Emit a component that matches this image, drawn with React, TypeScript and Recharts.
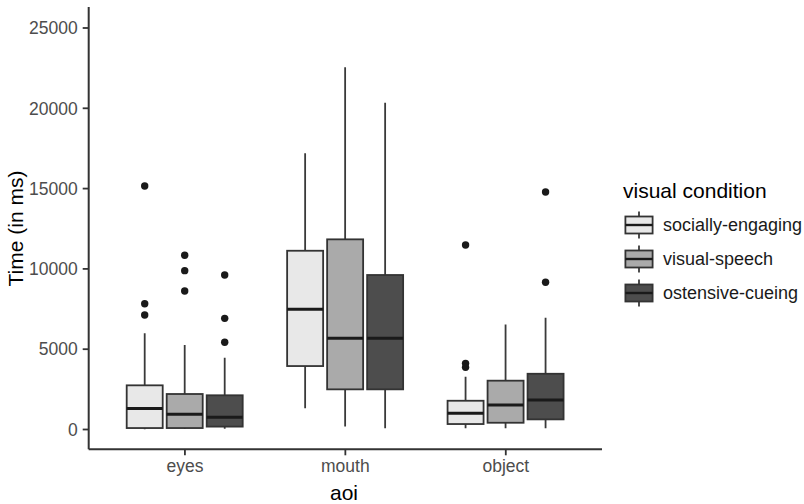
import { ComposedChart, Bar, XAxis, YAxis, Legend } from 'recharts';

const categories = ['eyes', 'mouth', 'object'];
const seriesNames = ['socially-engaging', 'visual-speech', 'ostensive-cueing'];
const seriesFills = ['#e8e8e8', '#aaaaaa', '#4d4d4d'];
const yTicks = [0, 5000, 10000, 15000, 20000, 25000];

// [lower whisker, q1, median, q3, upper whisker] for eyes, mouth, object
const sociallyEngaging = [
  [20, 90, 1300, 2750, 5990],
  [1320, 3950, 7480, 11130, 17200],
  [70, 340, 1010, 1790, 3290],
];
const visualSpeech = [
  [30, 90, 950, 2210, 5260],
  [180, 2500, 5680, 11840, 22550],
  [70, 420, 1530, 3040, 6530],
];
const ostensiveCueing = [
  [50, 180, 760, 2130, 4470],
  [70, 2500, 5680, 9620, 20350],
  [70, 630, 1840, 3470, 6960],
];

const sociallyEngagingOutliers = [[15160, 7830, 7130], [], [11490, 4120, 3870]];
const visualSpeechOutliers = [[10850, 9890, 8620], [], []];
const ostensiveCueingOutliers = [[9620, 6920, 5430], [], [14790, 9170]];

const allStats = [sociallyEngaging, visualSpeech, ostensiveCueing];
const allOutliers = [sociallyEngagingOutliers, visualSpeechOutliers, ostensiveCueingOutliers];

// range bars span the whiskers; the box is drawn inside that span
const data = categories.map((aoi, i) => ({
  aoi,
  s0: [sociallyEngaging[i][0], sociallyEngaging[i][4]],
  s1: [visualSpeech[i][0], visualSpeech[i][4]],
  s2: [ostensiveCueing[i][0], ostensiveCueing[i][4]],
}));

const FONT = '"Liberation Sans", Arial, sans-serif';

function makeBox(series: number) {
  return (props: any) => {
    const { x, y, width, height, payload } = props;
    const i = categories.indexOf(payload.aoi);
    const s = allStats[series][i];
    const out = allOutliers[series][i];
    const top = Math.min(y, y + height);
    const bottom = Math.max(y, y + height);
    const k = (bottom - top) / (s[4] - s[0]);
    const py = (v: number) => bottom - (v - s[0]) * k;
    const cx = x + width / 2;
    return (
      <g>
        <line x1={cx} x2={cx} y1={py(s[4])} y2={py(s[3])} stroke="#3a3a3a" strokeWidth={1.8} />
        <line x1={cx} x2={cx} y1={py(s[1])} y2={py(s[0])} stroke="#3a3a3a" strokeWidth={1.8} />
        <rect
          x={x}
          y={py(s[3])}
          width={width}
          height={py(s[1]) - py(s[3])}
          fill={seriesFills[series]}
          stroke="#333"
          strokeWidth={1.8}
        />
        <line x1={x} x2={x + width} y1={py(s[2])} y2={py(s[2])} stroke="#1a1a1a" strokeWidth={3} />
        {out.map((v, j) => (
          <circle key={j} cx={cx} cy={py(v)} r={3.7} fill="#1a1a1a" />
        ))}
      </g>
    );
  };
}

const renderLegend = () => (
  <div style={{ fontFamily: FONT }}>
    <div style={{ fontSize: 21, lineHeight: '24px', height: 29, color: '#000', marginLeft: 1 }}>
      visual condition
    </div>
    {seriesNames.map((name, i) => (
      <div key={name} style={{ display: 'flex', alignItems: 'center', height: 34 }}>
        <svg width={34} height={34}>
          <line x1={17} x2={17} y1={3.4} y2={30.6} stroke="#3a3a3a" strokeWidth={1.8} />
          <rect x={3.4} y={8.5} width={27.2} height={17} fill={seriesFills[i]} stroke="#333" strokeWidth={1.8} />
          <line x1={3.4} x2={30.6} y1={17} y2={17} stroke="#1a1a1a" strokeWidth={2.4} />
        </svg>
        <span style={{ fontSize: 18, color: '#1a1a1a', marginLeft: 7, whiteSpace: 'nowrap' }}>{name}</span>
      </div>
    ))}
  </div>
);

export default function App() {
  return (
    <div style={{ position: 'absolute', left: 0, top: 0, width: 804, height: 504, background: '#fff', fontFamily: FONT }}>
      <ComposedChart
        width={804}
        height={504}
        data={data}
        margin={{ top: 7, right: 202, bottom: 0, left: 0 }}
        barSize={36}
        barGap={4}
      >
        <XAxis
          dataKey="aoi"
          type="category"
          padding={{ left: 16, right: 16 }}
          height={54.7}
          tick={{ fill: '#4d4d4d', fontSize: 17.5, fontFamily: FONT }}
          tickSize={6}
          tickMargin={4}
          axisLine={{ stroke: '#333', strokeWidth: 2 }}
          tickLine={{ stroke: '#333', strokeWidth: 1.8 }}
          label={{
            content: () => (
              <text x={344} y={499.5} textAnchor="middle" fontSize={21} fontFamily={FONT} fill="#000">
                aoi
              </text>
            ),
          }}
        />
        <YAxis
          type="number"
          domain={[-1233, 26307]}
          allowDataOverflow
          ticks={yTicks}
          width={88.7}
          tick={{ fill: '#4d4d4d', fontSize: 17.5, fontFamily: FONT }}
          tickSize={6}
          tickMargin={5}
          axisLine={{ stroke: '#333', strokeWidth: 2 }}
          tickLine={{ stroke: '#333', strokeWidth: 1.8 }}
          label={{
            content: () => (
              <text
                x={22.5}
                y={228.5}
                transform="rotate(-90 22.5 228.5)"
                textAnchor="middle"
                fontSize={21}
                fontFamily={FONT}
                fill="#000"
              >
                Time (in ms)
              </text>
            ),
          }}
        />
        <Legend
          layout="vertical"
          align="center"
          verticalAlign="middle"
          content={renderLegend}
          wrapperStyle={{ position: 'absolute', left: 622, top: 179, width: 182, height: 140 }}
        />
        <Bar dataKey="s0" name={seriesNames[0]} fill={seriesFills[0]} shape={makeBox(0)} isAnimationActive={false} />
        <Bar dataKey="s1" name={seriesNames[1]} fill={seriesFills[1]} shape={makeBox(1)} isAnimationActive={false} />
        <Bar dataKey="s2" name={seriesNames[2]} fill={seriesFills[2]} shape={makeBox(2)} isAnimationActive={false} />
      </ComposedChart>
    </div>
  );
}
